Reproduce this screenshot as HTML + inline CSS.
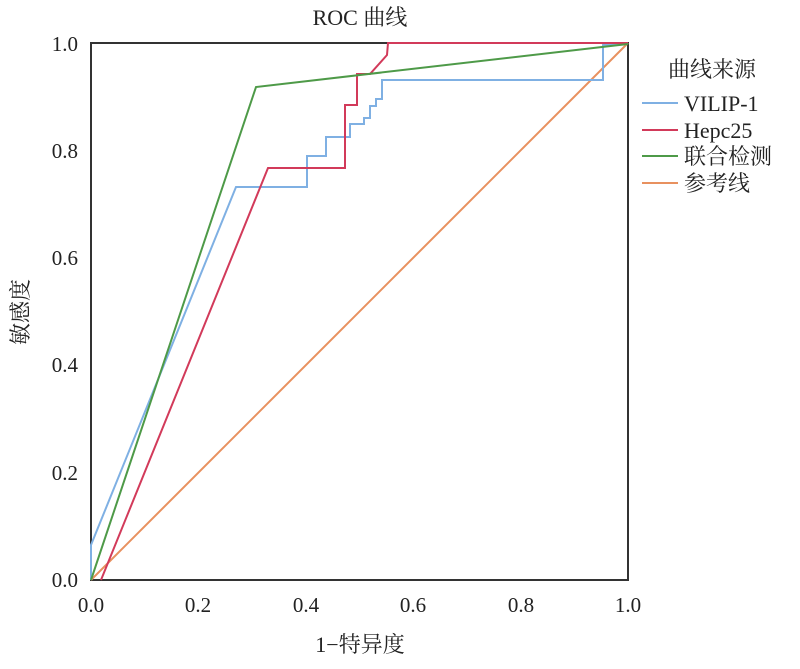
<!DOCTYPE html>
<html><head><meta charset="utf-8"><style>
body{margin:0;background:#fff;}
text{font-family:"Liberation Serif","Noto Serif CJK SC",serif;fill:#222;}
</style></head><body>
<svg width="800" height="664" xmlns="http://www.w3.org/2000/svg">
<rect width="800" height="664" fill="#fff"/>
<text x="360" y="25" font-size="22" text-anchor="middle">ROC 曲线</text>
<rect x="91" y="43" width="537" height="537" fill="none" stroke="#333" stroke-width="2"/>
<g fill="none" stroke-width="2">
<polyline stroke="#e8915f" points="91,580 628,43"/>
<polyline stroke="#7fb0e3" points="91,580 91,545 236,187 307,187 307,156 326,156 326,137 350,137 350,124 364,124 364,118 370,118 370,106 376,106 376,99 382,99 382,80 603,80 603,45 628,43"/>
<polyline stroke="#d23a5a" points="101,580 268,168 345,168 345,105 357,105 357,74 370,74 387,55 388,43 628,43"/>
<polyline stroke="#4e9a48" points="91,580 256,87 628,44"/>
</g>
<g font-size="21" text-anchor="end">
<text x="78" y="587">0.0</text><text x="78" y="480">0.2</text><text x="78" y="372">0.4</text>
<text x="78" y="265">0.6</text><text x="78" y="158">0.8</text><text x="78" y="51">1.0</text>
</g>
<g font-size="21" text-anchor="middle">
<text x="91" y="612">0.0</text><text x="198" y="612">0.2</text><text x="306" y="612">0.4</text>
<text x="413" y="612">0.6</text><text x="521" y="612">0.8</text><text x="628" y="612">1.0</text>
</g>
<text x="360" y="652" font-size="22" text-anchor="middle">1−特异度</text>
<text transform="translate(28,312) rotate(-90)" font-size="22" text-anchor="middle">敏感度</text>
<text x="668" y="77" font-size="22">曲线来源</text>
<g stroke-width="2">
<line x1="642" y1="103" x2="678" y2="103" stroke="#7fb0e3"/>
<line x1="642" y1="130" x2="678" y2="130" stroke="#d23a5a"/>
<line x1="642" y1="156" x2="678" y2="156" stroke="#4e9a48"/>
<line x1="642" y1="183" x2="678" y2="183" stroke="#e8915f"/>
</g>
<g font-size="22">
<text x="684" y="111">VILIP-1</text><text x="684" y="138">Hepc25</text>
<text x="684" y="164">联合检测</text><text x="684" y="191">参考线</text>
</g>
</svg>
</body></html>
